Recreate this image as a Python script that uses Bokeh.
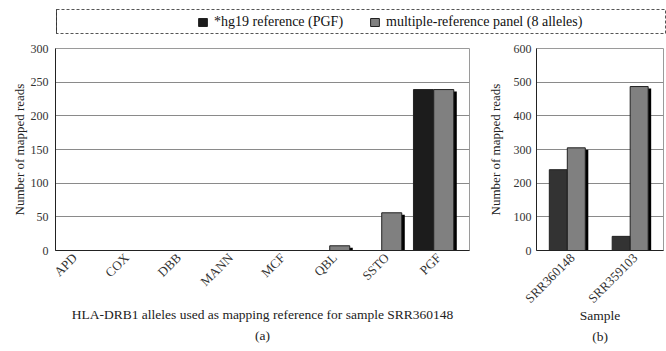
import math
from bokeh.plotting import figure
from bokeh.layouts import column, row
from bokeh.models import (Range1d, FixedTicker, SingleIntervalTicker, Legend, LegendItem,
                          ColumnDataSource, Title)
from bokeh.transform import dodge
from bokeh.embed import file_html
from bokeh.resources import INLINE

# ---------------- data ----------------
alleles = ["APD", "COX", "DBB", "MANN", "MCF", "QBL", "SSTO", "PGF"]
allele_hg19 = [0, 0, 0, 0, 0, 0, 0, 239]
allele_panel = [0, 0, 0, 0, 0, 7, 56, 239]

samples = ["SRR360148", "SRR359103"]
sample_hg19 = [240, 42]
sample_panel = [305, 487]

series_labels = ["*hg19 reference (PGF)", "multiple-reference panel (8 alleles)"]

FONT = "Liberation Serif"
GREY = "#808080"


def style_axes(p, ylabel, y_standoff, xlabel, x_standoff):
    p.xgrid.visible = False
    p.ygrid.grid_line_color = "#8a8a8a"
    p.outline_line_color = "#9a9a9a"
    for ax in (p.xaxis[0], p.yaxis[0]):
        ax.axis_line_color = "#222222"
        ax.major_tick_line_color = None
        ax.minor_tick_line_color = None
        ax.major_tick_out = 0
        ax.major_tick_in = 0
        ax.minor_tick_out = 0
        ax.minor_tick_in = 0
        ax.major_label_text_font = FONT
        ax.major_label_text_color = "#333333"
        ax.axis_label_text_font = FONT
        ax.axis_label_text_font_style = "normal"
        ax.axis_label_text_color = "#222222"
    p.yaxis.major_label_text_font_size = "12px"
    p.xaxis.major_label_text_font_size = "13px"
    p.yaxis.axis_label_text_font_size = "13px"
    p.xaxis.axis_label_text_font_size = "13.5px"
    p.yaxis.axis_label = ylabel
    p.yaxis.axis_label_standoff = y_standoff
    p.xaxis.axis_label = xlabel
    p.xaxis.axis_label_standoff = x_standoff
    p.xaxis.major_label_standoff = 5
    p.xaxis.major_label_orientation = math.pi / 4


def make_panel(p, names, hg19, panel, bar_w, dx, sx, sy, dark, label_shift):
    src = ColumnDataSource(dict(
        idx=list(range(len(names))),
        hg19=hg19,
        panel=panel,
        hg19_sh=[max(v - sy, 0) for v in hg19],
        panel_sh=[max(v - sy, 0) for v in panel],
    ))
    # shadows
    p.vbar(x=dodge("idx", -dx + sx, range=p.x_range), top="hg19_sh", width=bar_w,
           source=src, fill_color="black", line_color=None)
    p.vbar(x=dodge("idx", dx + sx, range=p.x_range), top="panel_sh", width=bar_w,
           source=src, fill_color="black", line_color=None)
    # bars
    p.vbar(x=dodge("idx", -dx, range=p.x_range), top="hg19", width=bar_w,
           source=src, fill_color=dark, line_color="#222222", line_width=1)
    p.vbar(x=dodge("idx", dx, range=p.x_range), top="panel", width=bar_w,
           source=src, fill_color=GREY, line_color="#222222", line_width=1)
    # (invisible) ticks slightly right of each bar pair, so rotated labels end like the original
    ticks = [i + label_shift for i in range(len(names))]
    p.xaxis.ticker = FixedTicker(ticks=ticks)
    p.xaxis.major_label_overrides = {t: n for t, n in zip(ticks, names)}


def caption(text):
    return Title(text=text, align="center", text_font=FONT, text_font_size="13.5px",
                 text_font_style="normal", text_color="#222222", standoff=0)


# ---------------- legend strip ----------------
lf = figure(width=666, height=40, x_range=Range1d(0, 1), y_range=Range1d(0, 1),
            x_axis_type=None, y_axis_type=None, toolbar_location=None,
            output_backend="svg", min_border_left=56, min_border_right=1,
            min_border_top=9, min_border_bottom=7)
lf.grid.visible = False
lf.outline_line_color = "#555555"
lf.outline_line_dash = "3 2"
r1 = lf.vbar(x=[-5], top=[1], width=0.1, fill_color="#1c1c1c", line_color="#222222")
r2 = lf.vbar(x=[-5], top=[1], width=0.1, fill_color=GREY, line_color="#222222")
legend = Legend(items=[LegendItem(label=series_labels[0], renderers=[r1]),
                       LegendItem(label=series_labels[1], renderers=[r2])],
                orientation="horizontal", location=(141, 3),
                border_line_color=None, background_fill_alpha=0,
                padding=0, margin=0, spacing=26,
                glyph_width=11, glyph_height=10, label_height=14,
                label_standoff=6, label_text_font=FONT,
                label_text_font_size="14px", label_text_color="#111111")
lf.add_layout(legend)

# ---------------- panel (a) ----------------
pa = figure(width=480, height=311, x_range=Range1d(-0.27, 7.69), y_range=Range1d(0, 300),
            toolbar_location=None, output_backend="svg",
            min_border_left=55, min_border_right=11, min_border_top=8, min_border_bottom=101)
make_panel(pa, alleles, allele_hg19, allele_panel, bar_w=0.385, dx=0.195, sx=0.058, sy=3,
           dark="#1c1c1c", label_shift=0.1)
style_axes(pa, "Number of mapped reads", 1,
           "HLA-DRB1 alleles used as mapping reference for sample SRR360148", 10)
pa.yaxis.ticker = SingleIntervalTicker(interval=50)
pa.yaxis.major_label_standoff = 7
pa.add_layout(caption("(a)"), "below")

# ---------------- panel (b) ----------------
pb = figure(width=186, height=311, x_range=Range1d(-0.49, 1.53), y_range=Range1d(0, 600),
            toolbar_location=None, output_backend="svg",
            min_border_left=56, min_border_right=3, min_border_top=8, min_border_bottom=101)
make_panel(pb, samples, sample_hg19, sample_panel, bar_w=0.286, dx=0.143, sx=0.048, sy=6,
           dark="#333333", label_shift=0.08)
style_axes(pb, "Number of mapped reads", 8, "Sample", -6)
pb.yaxis.ticker = SingleIntervalTicker(interval=100)
pb.yaxis.major_label_standoff = 5
pb.add_layout(caption("(b)"), "below")

layout = column(lf, row(pa, pb))
open("out.html", "w").write(file_html(layout, INLINE))
